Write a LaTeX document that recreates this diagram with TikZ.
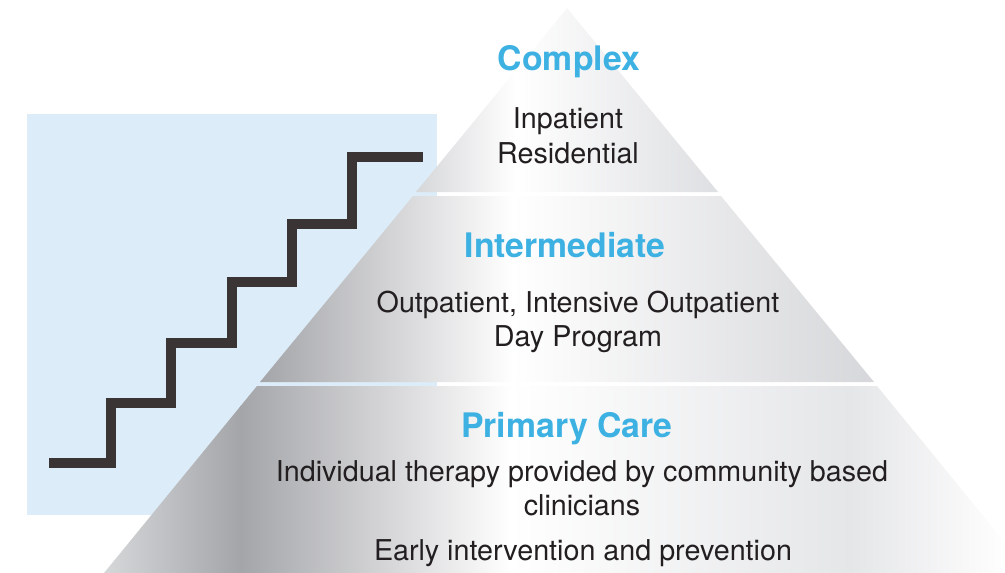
\documentclass[tikz,border=0pt]{standalone}
\usepackage{fontspec}
\setmainfont{TeX Gyre Heros}

\definecolor{tierblue}{RGB}{62,177,227}
\definecolor{skyback}{RGB}{220,236,248}
\definecolor{stairgray}{RGB}{58,53,52}
\definecolor{textgray}{RGB}{35,31,32}
\definecolor{lightgrey}{RGB}{214,215,217}
\definecolor{paleright}{RGB}{222,223,226}
\definecolor{darkgrey}{RGB}{164,165,169}
\definecolor{midright}{RGB}{214,215,218}
\definecolor{lowright}{RGB}{229,230,232}

\tikzset{
  title/.style={text=tierblue, font=\fontsize{33.8}{40}\selectfont\bfseries, anchor=base},
  body/.style={text=textgray, font=\fontsize{28.7}{35}\selectfont, anchor=base},
  stairs/.style={draw=stairgray, line width=9.5pt, line join=miter}
}

\begin{document}
\begin{tikzpicture}[x=1pt,y=-1pt]

    \def\toptier{(567,8) -- (718,192) -- (416,192) -- cycle}
    \def\midtier{(413,196) -- (721,196) -- (874,382) -- (260,382) -- cycle}
    \def\lowtier{(257,386) -- (877,386) -- (1030,573) -- (104,573) -- cycle}

    \def\canvas{(0,0) rectangle (1005,573)}

    \useasboundingbox \canvas;
    \clip \canvas;

    %backdrop and stairs:
    \fill[skyback] (27,114) rectangle (437,515);
    \draw[stairs] (49,463) -| (111,403) -| (171,343) -| (232,282) -| (292,224) -| (352,157) -- (423,157);

    %top tier:
    \begin{scope}
        \clip \toptier;
        \shade[left color=lightgrey, right color=white] (416,0) rectangle (516,200);
        \shade[left color=white, right color=paleright] (515,0) rectangle (718,200);
    \end{scope}

    %middle tier:
    \begin{scope}
        \clip \midtier;
        \shade[left color=darkgrey, right color=white] (260,190) rectangle (513,390);
        \shade[left color=white, right color=midright] (512,190) rectangle (874,390);
    \end{scope}

    %bottom tier:
    \begin{scope}
        \clip \lowtier;
        \shade[left color=lightgrey, right color=darkgrey] (104,380) rectangle (241,580);
        \shade[left color=darkgrey, right color=white] (240,380) rectangle (511,580);
        \shade[left color=white, right color=lowright] (510,380) rectangle (851,580);
        \shade[left color=lowright, right color=white] (850,380) rectangle (1010,580);
    \end{scope}

    %labels:
    \node[title] (complex) at (569,70) {Complex};
    \node[body] (inpat) at (568,128) {Inpatient};
    \node[body] (resid) at (568,163) {Residential};

    \node[title] (interm) at (565,257) {Intermediate};
    \node[body] (outpat) at (578,312) {Outpatient, Intensive Outpatient};
    \node[body] (dayprog) at (578,346) {Day Program};

    \node[title] (primary) at (567,437) {Primary Care};
    \node[body] (indiv) at (582,481) {Individual therapy provided by community based};
    \node[body] (clinic) at (582,515) {clinicians};
    \node[body] (early) at (583,560) {Early intervention and prevention};

\end{tikzpicture}
\end{document}
